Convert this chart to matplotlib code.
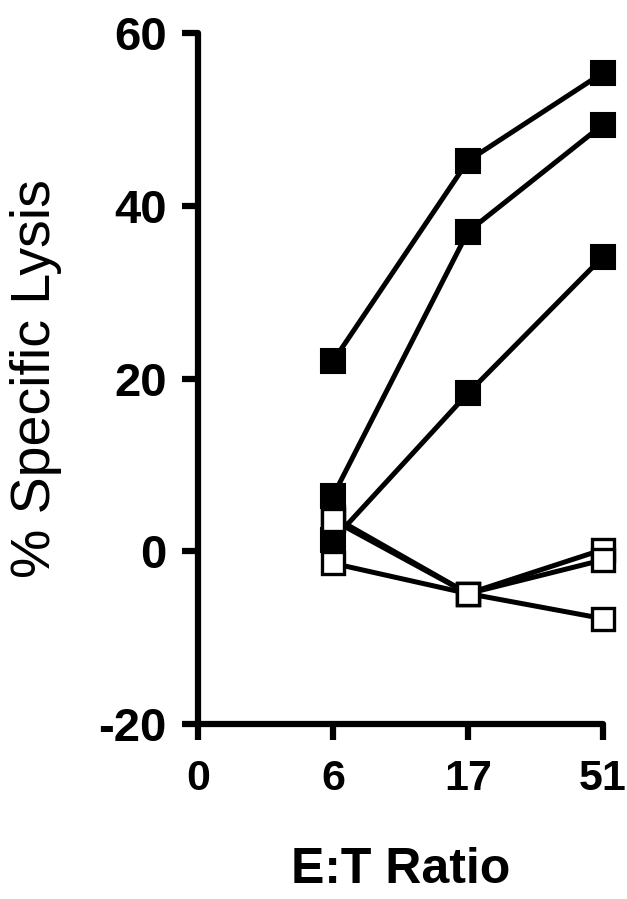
import matplotlib
matplotlib.use("Agg")
import matplotlib.pyplot as plt

plt.rcParams['font.family'] = ['Liberation Sans', 'DejaVu Sans']

# Data
categories = ["0", "6", "17", "51"]
ratios_plotted = ["6", "17", "51"]
filled_series = [
    [22.0, 45.2, 55.4],
    [6.4, 37.0, 49.4],
    [1.3, 18.3, 34.1],
]
open_series = [
    [4.0, -4.9, 0.2],
    [3.6, -4.9, -1.0],
    [-1.4, -4.9, -7.8],
]
yticks = [-20, 0, 20, 40, 60]

fig = plt.figure(figsize=(6.27, 8.99), dpi=100)
ax = fig.add_axes([198/627, 1-724/899, (603-198)/627, (724-33)/899])

xpos = [categories.index(c) for c in ratios_plotted]
for ys in filled_series:
    ax.plot(xpos, ys, color='black', lw=3.6, marker='s', ms=17.5,
            mfc='black', mec='black', mew=1.5, clip_on=False, zorder=3)
for ys in open_series:
    ax.plot(xpos, ys, color='black', lw=3.6, marker='s', ms=16,
            mfc='white', mec='black', mew=2.4, clip_on=False, zorder=4)

ax.set_xlim(0, len(categories) - 1)
ax.set_ylim(-20, 60)
ax.set_xticks(range(len(categories)))
ax.set_xticklabels(categories)
ax.set_yticks(yticks)
ax.set_yticklabels([str(t) for t in yticks])

for s in ['top', 'right']:
    ax.spines[s].set_visible(False)
for s in ['left', 'bottom']:
    ax.spines[s].set_linewidth(4.5)
    ax.spines[s].set_capstyle('round')

ax.tick_params(axis='both', length=11.5, width=4.5, direction='out')
ax.tick_params(axis='y', pad=11, labelsize=34)
ax.tick_params(axis='x', pad=14, labelsize=31)
for lab in ax.get_xticklabels() + ax.get_yticklabels():
    lab.set_fontweight('bold')

ax.set_ylabel('% Specific Lysis', fontsize=40, labelpad=26)
ax.set_xlabel('E:T Ratio', fontsize=36, fontweight='bold', labelpad=34)

fig.savefig('out.png', dpi=100)
